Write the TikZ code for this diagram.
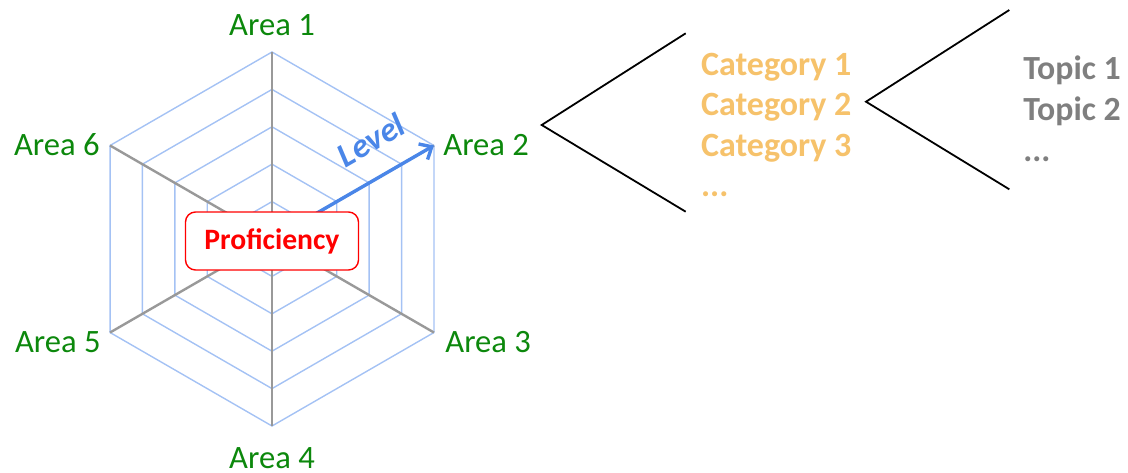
\documentclass[tikz,border=0pt]{standalone}
\usepackage{fontspec}
\setmainfont{Carlito}
\usetikzlibrary{arrows.meta}

\definecolor{areagreen}{RGB}{12,136,12}
\definecolor{ringblue}{HTML}{A4C2F4}
\definecolor{levelblue}{HTML}{4A86E8}
\definecolor{spokegray}{HTML}{999999}
\definecolor{catorange}{HTML}{F6C26B}
\definecolor{topicgray}{HTML}{7F7F7F}

\tikzset{
  ring/.style={ringblue, line width=0.7pt},
  spoke/.style={spokegray, line width=1.2pt},
  bracket/.style={black, line width=0.9pt},
  area/.style={text=areagreen, inner sep=0pt, font=\fontsize{16.3}{19}\selectfont},
  cat/.style={text=catorange, inner sep=0pt, anchor=base west, font=\bfseries\fontsize{17}{20}\selectfont},
  topic/.style={text=topicgray, inner sep=0pt, anchor=base west, font=\bfseries\fontsize{16.9}{20}\selectfont},
  profbox/.style={draw=red, fill=white, text=red, line width=0.7pt, rounded corners=5pt,
    minimum width=86.5pt, minimum height=29pt, font=\bfseries\fontsize{14.8}{17}\selectfont}
}

\begin{document}
\begin{tikzpicture}[x=0.5pt, y=0.5pt, >={Straight Barb[length=5pt,width=9pt]}]
    \useasboundingbox (-272,-233) rectangle (856,239);
    % level rings
    \foreach \r in {37.4,74.8,112.2,149.6,187}
        \draw[ring] (90:\r)--(30:\r)--(-30:\r)--(-90:\r)--(-150:\r)--(150:\r)--cycle;
    \coordinate (o) at (0,0);
    \foreach \a [count=\i] in {90,30,-30,-90,-150,150}
        \coordinate (v\i) at (\a:187);
    \foreach \i in {1,...,6}
        \draw[spoke] (o)--(v\i);
    \draw[->, levelblue, line width=1.7pt] (o)--(v2);
    \node[text=levelblue, font=\bfseries\itshape\fontsize{17}{20}\selectfont, rotate=30] (lvl) at (99,99) {Level};
    \node[profbox] (prof) at (0,-2) {Proficiency};
    % areas
    \node[area, anchor=base] (a1) at (0,204) {Area 1};
    \node[area, anchor=base west] (a2) at (171,83.5) {Area 2};
    \node[area, anchor=base west] (a3) at (173,-113) {Area 3};
    \node[area, anchor=base] (a4) at (0,-229) {Area 4};
    \node[area, anchor=base east] (a5) at (-171,-113) {Area 5};
    \node[area, anchor=base east] (a6) at (-172,84) {Area 6};
    % categories
    \coordinate (c0) at (269.7,114);
    \coordinate (c1) at (413.7,205.7);
    \coordinate (c2) at (413.7,27.3);
    \draw[bracket] (c1)--(c0)--(c2);
    \node[cat] (cat1) at (428.7,164) {Category 1};
    \node[cat] (cat2) at (428.7,123.7) {Category 2};
    \node[cat] (cat3) at (428.7,82.3) {Category 3};
    \node[cat] (cat4) at (428.7,42.3) {...};
    % topics
    \coordinate (t0) at (594,137.3);
    \coordinate (t1) at (737.3,229);
    \coordinate (t2) at (737.3,49.7);
    \draw[bracket] (t1)--(t0)--(t2);
    \node[topic] (top1) at (751,159.7) {Topic 1};
    \node[topic] (top2) at (751,119) {Topic 2};
    \node[topic] (top3) at (751,77.3) {...};
\end{tikzpicture}
\end{document}
